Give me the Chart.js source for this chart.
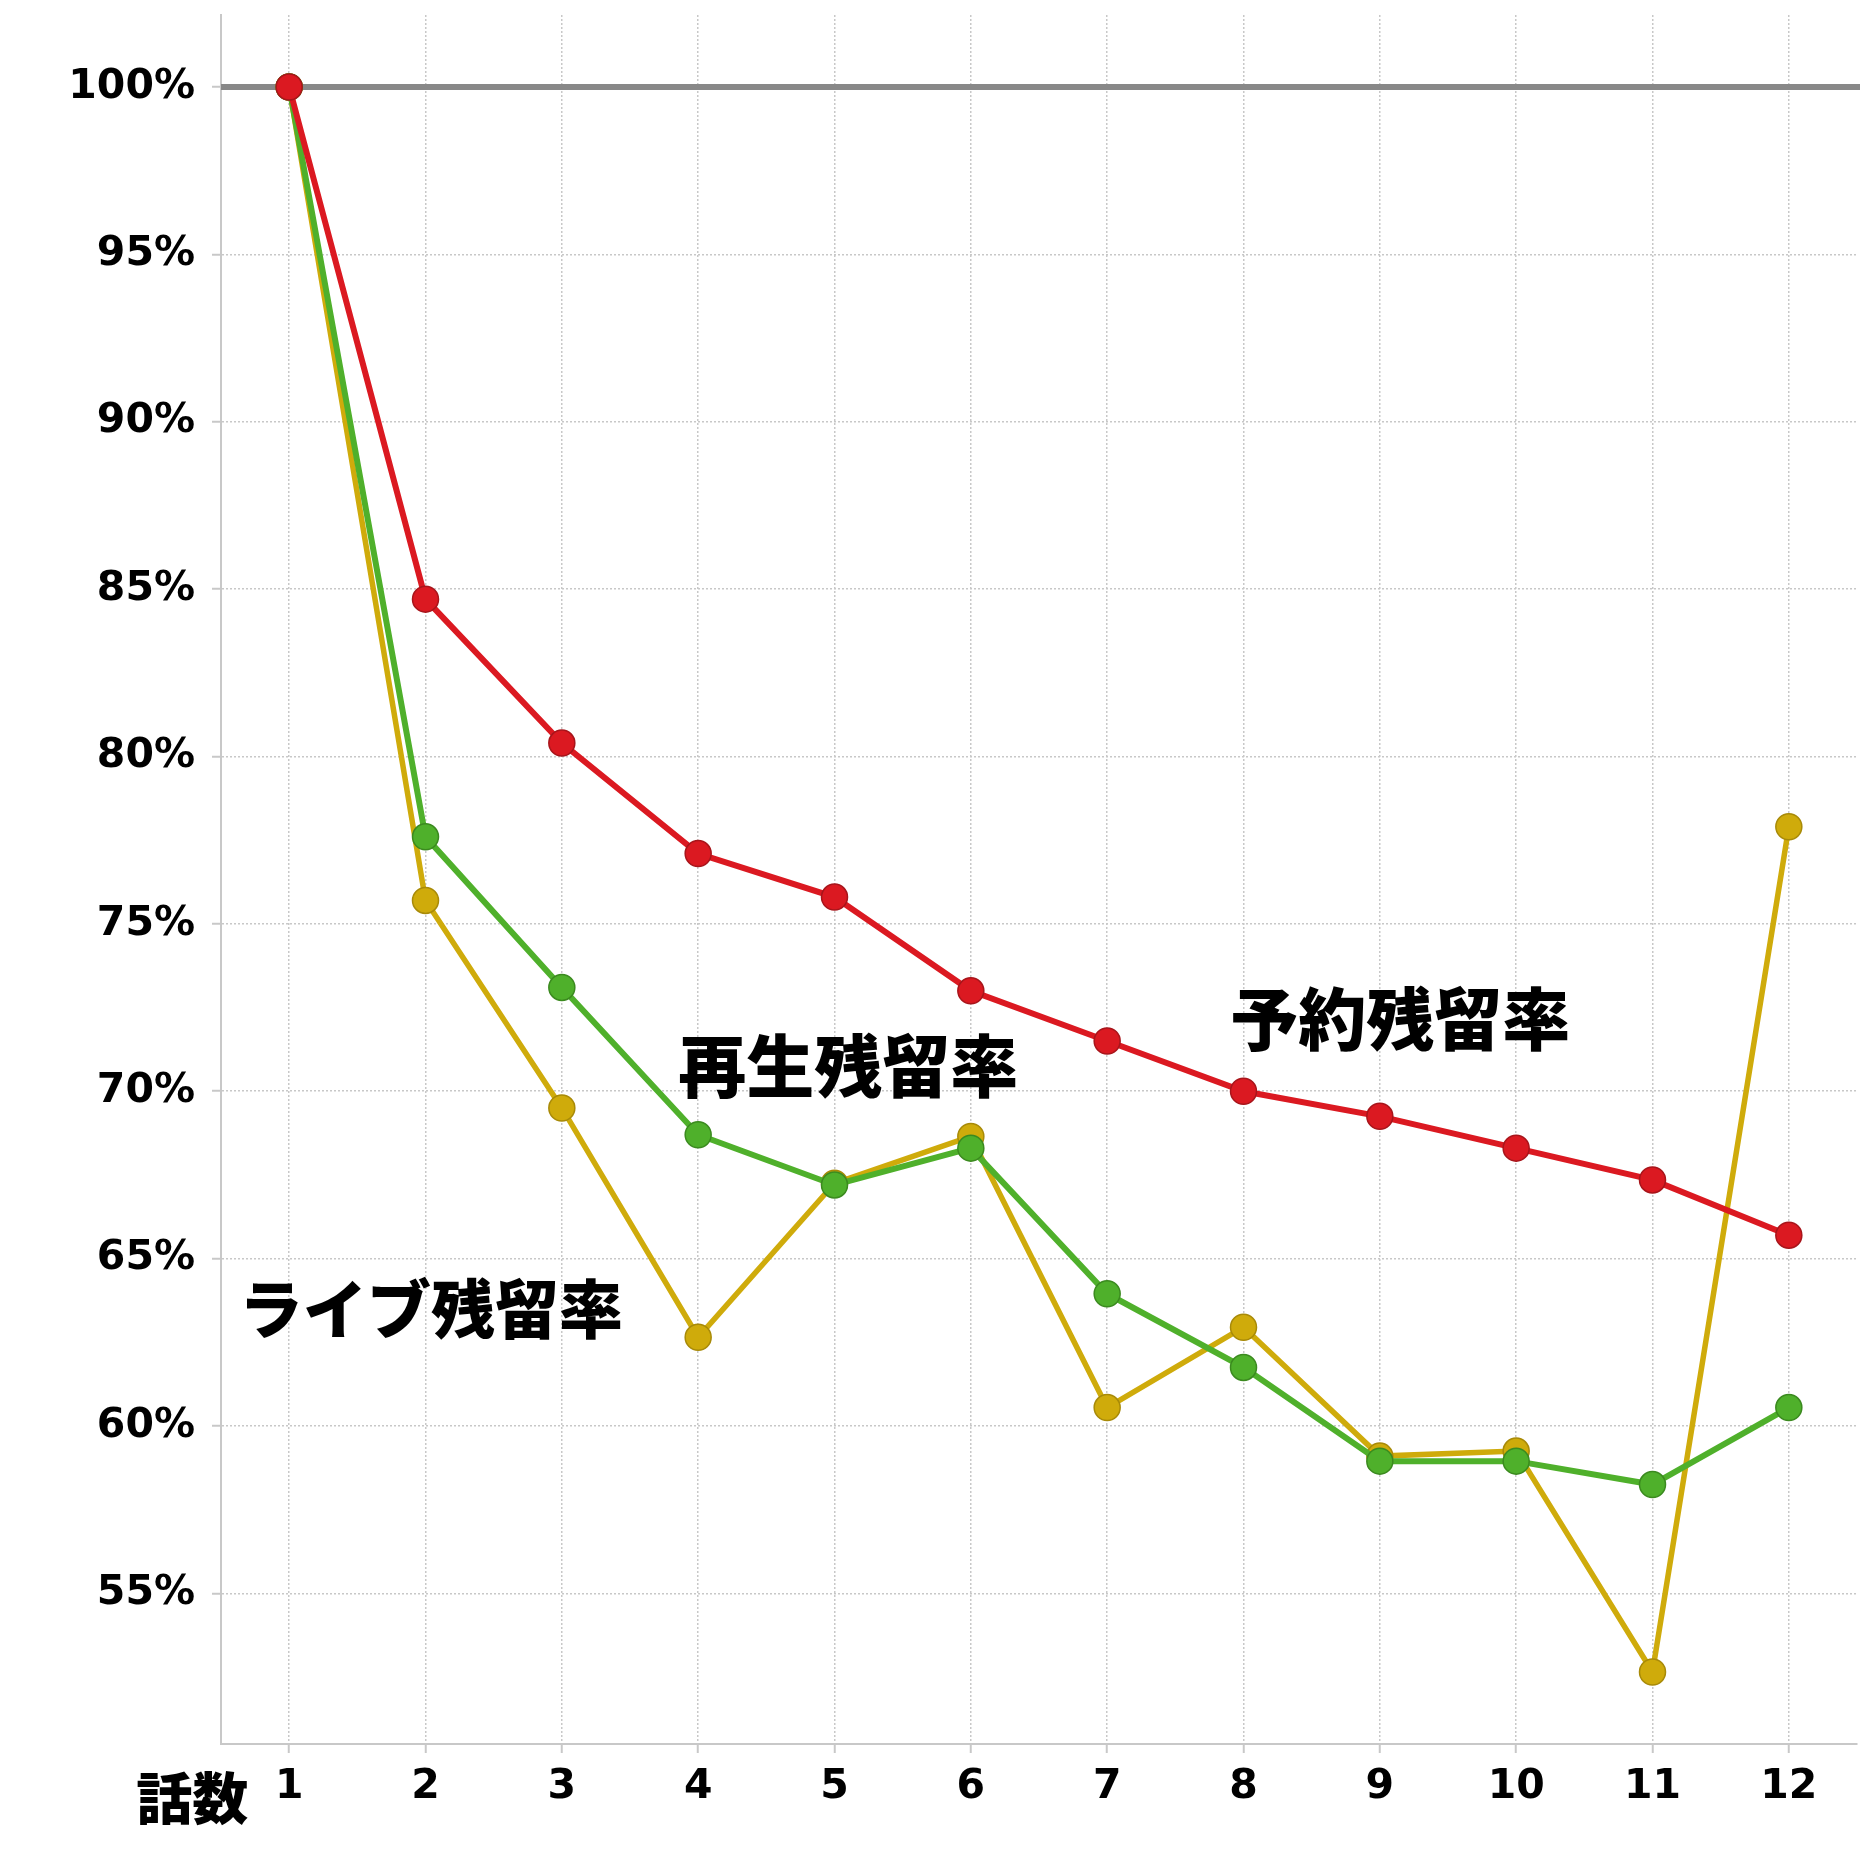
<!DOCTYPE html>
<html lang="ja">
<head>
<meta charset="utf-8">
<title>残留率</title>
<script src="https://cdn.jsdelivr.net/npm/chart.js@4.4.1/dist/chart.umd.min.js"></script>
<style>
  html, body { margin: 0; padding: 0; background: #fff; }
  #wrap { width: 1860px; height: 1860px; }
</style>
</head>
<body>
<div id="wrap"><canvas id="chart"></canvas></div>
<script>
// 話数
const episodes = ['1', '2', '3', '4', '5', '6', '7', '8', '9', '10', '11', '12'];

// 残留率（%）
const reserveRate = [100, 84.7, 80.4, 77.1, 75.8, 73.0, 71.5, 70.0, 69.25, 68.3, 67.35, 65.7];
const playRate    = [100, 77.6, 73.1, 68.7, 67.2, 68.3, 63.95, 61.75, 58.95, 58.95, 58.25, 60.55];
const liveRate    = [100, 75.7, 69.5, 62.65, 67.25, 68.65, 60.55, 62.95, 59.1, 59.25, 52.65, 77.9];

// 目盛り
const yTicks = [55, 60, 65, 70, 75, 80, 85, 90, 95, 100];
const yMin = 50.5;
const yMax = 102.15;
const baseLine = 100;

const seriesNames = ['予約残留率', '再生残留率', 'ライブ残留率'];
const xAxisName = '話数';

// 系列名を置く位置（x: 話数インデックス, y: %）
const nameSpots = [
  { x: 8.15, y: 72.15 },
  { x: 4.1, y: 70.75 },
  { x: 1.04, y: 63.5 }
];

const tickFont = { family: '"DejaVu Sans", Verdana, sans-serif', size: 41, weight: 'bold' };
const jpFont = '"Noto Sans CJK JP", "Noto Sans", sans-serif';
const gridGrey = '#c8c8c8';

// 100%線と文字ラベル
const overlay = {
  id: 'overlay',
  beforeDatasetsDraw(chart) {
    const { ctx, chartArea, scales } = chart;
    const y = scales.y.getPixelForValue(baseLine);
    ctx.save();
    ctx.strokeStyle = '#888888';
    ctx.lineWidth = 6;
    ctx.beginPath();
    ctx.moveTo(chartArea.left, y);
    ctx.lineTo(chart.width, y);
    ctx.stroke();
    ctx.restore();
  },
  afterDraw(chart) {
    const { ctx, chartArea, scales } = chart;
    ctx.save();
    ctx.fillStyle = '#000';
    ctx.textAlign = 'center';
    ctx.textBaseline = 'middle';
    seriesNames.forEach((name, i) => {
      const p = nameSpots[i];
      ctx.font = '900 ' + (i === 2 ? 64 : 68) + 'px ' + jpFont;
      ctx.fillText(name, scales.x.getPixelForValue(p.x), scales.y.getPixelForValue(p.y));
    });
    ctx.font = '900 56px ' + jpFont;
    ctx.fillText(xAxisName, scales.x.getPixelForValue(0) - 97, chartArea.bottom + 54);
    ctx.restore();
  }
};

const makeSet = (label, data, color, edge, width) => ({
  label: label,
  data: data,
  borderColor: color,
  backgroundColor: color,
  borderWidth: width,
  pointRadius: 13,
  pointHoverRadius: 13,
  pointBackgroundColor: color,
  pointBorderColor: edge,
  pointBorderWidth: 1.5,
  tension: 0,
  fill: false,
  clip: false
});

new Chart(document.getElementById('chart'), {
  type: 'line',
  data: {
    labels: episodes,
    datasets: [
      makeSet(seriesNames[0], reserveRate, '#db1921', '#a8151b', 6),
      makeSet(seriesNames[1], playRate, '#4fb02b', '#3b8a1f', 6),
      makeSet(seriesNames[2], liveRate, '#cfab0b', '#a88a08', 5.5)
    ]
  },
  options: {
    responsive: true,
    maintainAspectRatio: false,
    animation: false,
    layout: { autoPadding: false, padding: { top: 15, right: 3, left: 0, bottom: 0 } },
    plugins: {
      legend: { display: false },
      tooltip: { enabled: false }
    },
    scales: {
      x: {
        offset: true,
        grid: {
          offset: false,
          color: gridGrey,
          lineWidth: 1.5,
          tickLength: 9,
          tickColor: gridGrey,
          tickWidth: 2
        },
        border: { color: gridGrey, width: 2, dash: [2, 2] },
        ticks: { color: '#000', font: tickFont, padding: 10, maxRotation: 0, autoSkip: false },
        afterFit: (scale) => {
          scale.height = 116;
          scale.paddingLeft = 0;
          scale.paddingRight = 0;
        }
      },
      y: {
        min: yMin,
        max: yMax,
        afterBuildTicks: (scale) => { scale.ticks = yTicks.map(v => ({ value: v })); },
        grid: {
          color: gridGrey,
          lineWidth: 1.5,
          tickLength: 9,
          tickColor: gridGrey,
          tickWidth: 2
        },
        border: { color: gridGrey, width: 2, dash: [2, 2] },
        ticks: {
          color: '#000',
          font: tickFont,
          padding: 17,
          callback: (v) => v + '%'
        },
        afterFit: (scale) => {
          scale.width = 221;
          scale.paddingTop = 0;
          scale.paddingBottom = 0;
        }
      }
    }
  },
  plugins: [overlay]
});
</script>
</body>
</html>
